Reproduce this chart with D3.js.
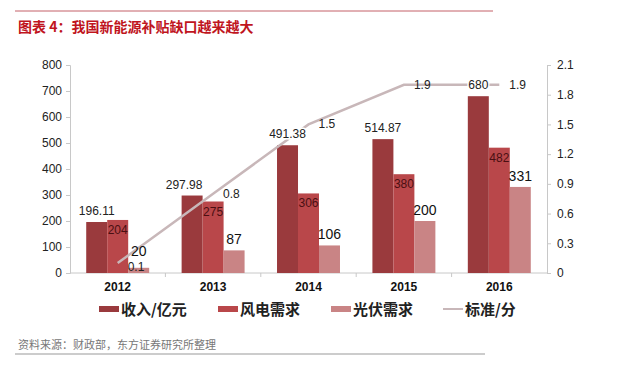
<!DOCTYPE html>
<html>
<head>
<meta charset="utf-8">
<script src="https://cdn.jsdelivr.net/npm/d3@7"></script>
<style>
  body { margin: 0; background: #fff; }
  text { font-family: Arial, "Liberation Sans", "Noto Sans CJK SC", sans-serif; }
</style>
</head>
<body>
<script>
// data
var years = ['2012', '2013', '2014', '2015', '2016'];
var revenue = [196.11, 297.98, 491.38, 514.87, 680];
var windDemand = [204, 275, 306, 380, 482];
var solarDemand = [20, 87, 106, 200, 331];
var standard = [0.1, 0.8, 1.5, 1.9, 1.9];
var leftTicks = [0, 100, 200, 300, 400, 500, 600, 700, 800];
var rightTicks = [0, 0.3, 0.6, 0.9, 1.2, 1.5, 1.8, 2.1];
var legendNames = ['收入/亿元', '风电需求', '光伏需求', '标准/分'];

var colors = ['#9a3a3d', '#b9474a', '#c98485'];
var lineColor = '#c8b7b9';
var cjk = '"Noto Sans CJK SC", sans-serif';

var svg = d3.select('body').append('svg').attr('width', 640).attr('height', 370);

// header
svg.append('line').attr('x1', 15).attr('x2', 493).attr('y1', 11).attr('y2', 11)
  .attr('stroke', '#c46068').attr('stroke-width', 1);
svg.append('text').attr('x', 18).attr('y', 32).text('图表 4：我国新能源补贴缺口越来越大')
  .attr('fill', '#c0151e').attr('font-weight', 'bold').attr('font-size', 14)
  .style('font-family', cjk);

var x = d3.scaleBand().domain(years).range([70, 547]);
var xi = d3.scaleBand().domain([0, 1, 2]).range([x.bandwidth() * 0.17, x.bandwidth() * 0.83]);
var y = d3.scaleLinear().domain([0, 800]).range([273, 65]);
var y2 = d3.scaleLinear().domain([0, 2.1]).range([273, 65]);

// axes
var gl = svg.append('g').attr('transform', 'translate(70,0)')
  .call(d3.axisLeft(y).tickValues(leftTicks).tickSize(4).tickPadding(4));
var gr = svg.append('g').attr('transform', 'translate(547,0)')
  .call(d3.axisRight(y2).tickValues(rightTicks).tickSize(4).tickPadding(6)
    .tickFormat(function (d) { return d3.format('~g')(d); }));
[gl, gr].forEach(function (g) {
  g.select('.domain').attr('stroke', '#c8c8c8');
  g.selectAll('.tick line').attr('stroke', '#c8c8c8');
  g.selectAll('.tick text').attr('font-size', 12).attr('fill', '#222');
});

var gx = svg.append('g').attr('transform', 'translate(0,273)');
gx.append('line').attr('x1', 70).attr('x2', 547).attr('stroke', '#c8c8c8');
gx.selectAll('line.tk').data(years.slice(1)).enter().append('line').attr('class', 'tk')
  .attr('x1', function (d) { return x(d); }).attr('x2', function (d) { return x(d); })
  .attr('y1', 0).attr('y2', 4).attr('stroke', '#c8c8c8');
gx.selectAll('text').data(years).enter().append('text')
  .attr('x', function (d) { return x(d) + x.bandwidth() / 2; })
  .attr('y', 18).attr('text-anchor', 'middle')
  .attr('font-size', 12).attr('font-weight', 'bold').attr('fill', '#111')
  .text(function (d) { return d; });

// bars
var series = [revenue, windDemand, solarDemand];
series.forEach(function (vals, s) {
  svg.selectAll('rect.s' + s).data(vals).enter().append('rect').attr('class', 's' + s)
    .attr('x', function (d, i) { return x(years[i]) + xi(s); })
    .attr('width', xi.bandwidth())
    .attr('y', function (d) { return y(d); })
    .attr('height', function (d) { return 273 - y(d); })
    .attr('fill', colors[s]);
});

// line
var cx = function (d, i) { return x(years[i]) + x.bandwidth() / 2; };
svg.append('path').datum(standard)
  .attr('d', d3.line().x(cx).y(function (d) { return y2(d); }))
  .attr('fill', 'none').attr('stroke', lineColor).attr('stroke-width', 2.5);

// labels
svg.selectAll('text.rev').data(revenue).enter().append('text').attr('class', 'rev')
  .attr('x', function (d, i) { return x(years[i]) + xi(0) + xi.bandwidth() / 2 - (i === 1 ? 8 : 0); })
  .attr('y', function (d) { return y(d) - 7; })
  .attr('text-anchor', 'middle').attr('font-size', 12).attr('fill', '#222')
  .attr('stroke', '#fff').attr('stroke-width', 3).attr('paint-order', 'stroke')
  .text(function (d) { return d; });
svg.selectAll('text.wind').data(windDemand).enter().append('text').attr('class', 'wind')
  .attr('x', function (d, i) { return x(years[i]) + xi(1) + xi.bandwidth() / 2; })
  .attr('y', function (d) { return y(d) + 14; })
  .attr('text-anchor', 'middle').attr('font-size', 12).attr('fill', '#4a0f12')
  .text(function (d) { return d; });
svg.selectAll('text.solar').data(solarDemand).enter().append('text').attr('class', 'solar')
  .attr('x', function (d, i) { return x(years[i]) + xi(2) + xi.bandwidth() / 2; })
  .attr('y', function (d, i) { return y(d) - (i === 0 ? 12 : 6); })
  .attr('text-anchor', 'middle').attr('font-size', 14).attr('fill', '#111')
  .text(function (d) { return d; });
svg.selectAll('text.std').data(standard).enter().append('text').attr('class', 'std')
  .attr('x', function (d, i) { return cx(d, i) + 10; })
  .attr('y', function (d, i) { return y2(d) + (i === 0 ? 8 : 4); })
  .attr('font-size', 12).attr('fill', '#222')
  .text(function (d) { return d; });

// legend
var lx = [99, 218, 331, 443];
var lg = svg.selectAll('g.lg').data(legendNames).enter().append('g').attr('class', 'lg')
  .attr('transform', function (d, i) { return 'translate(' + lx[i] + ',309)'; });
lg.each(function (d, i) {
  var g = d3.select(this);
  if (i < 3) {
    g.append('rect').attr('x', 0).attr('y', -3).attr('width', 20).attr('height', 6).attr('fill', colors[i]);
  } else {
    g.append('line').attr('x1', 0).attr('x2', 20).attr('stroke', lineColor).attr('stroke-width', 2);
  }
  g.append('text').attr('x', 22).attr('y', 6).text(d)
    .attr('font-size', 15).attr('font-weight', 'bold').attr('fill', '#222')
    .style('font-family', cjk);
});

// footer
svg.append('text').attr('x', 18).attr('y', 349).text('资料来源：财政部，东方证券研究所整理')
  .attr('font-size', 11).attr('fill', '#777').style('font-family', cjk);
svg.append('line').attr('x1', 15).attr('x2', 485).attr('y1', 354).attr('y2', 354)
  .attr('stroke', '#999').attr('stroke-width', 1);
</script>
</body>
</html>
